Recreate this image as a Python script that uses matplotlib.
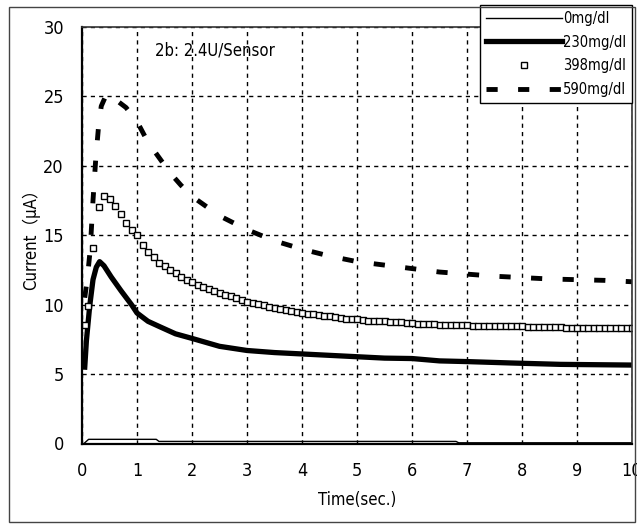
import matplotlib
matplotlib.use("Agg")
import matplotlib.pyplot as plt
from matplotlib.patches import Rectangle

plt.rcParams['font.family'] = ['DejaVu Sans', 'Noto Sans CJK JP']
plt.rcParams['font.stretch'] = 'condensed'

##################################
# Data

# 0 mg/dl (thin line near zero)
t_0 = [0.05, 0.12, 1.35, 1.4, 6.8, 6.85, 10.0]
i_0 = [0.05, 0.3, 0.3, 0.15, 0.15, 0.05, 0.05]

# 230 mg/dl (thick solid line)
t_230 = [0.05, 0.08, 0.14, 0.2, 0.26, 0.32, 0.4, 0.53, 0.71, 0.9, 1.0, 1.2, 1.42,
         1.7, 2.0, 2.5, 3.0, 3.5, 4.0, 4.5, 5.0, 5.5, 6.0, 6.5, 7.0, 7.8, 8.7, 10.0]
i_230 = [5.5, 7.4, 9.9, 11.8, 12.7, 13.1, 12.8, 12.0, 11.0, 10.0, 9.4, 8.8, 8.4,
         7.9, 7.57, 7.0, 6.7, 6.55, 6.45, 6.35, 6.25, 6.15, 6.12, 5.95, 5.9, 5.8, 5.7, 5.65]

# 398 mg/dl (open squares, every 0.1 s)
t_398 = [0.05] + [round(0.1 * k, 1) for k in range(1, 101)]
i_398 = [8.5, 9.9, 14.1, 17.0, 17.8, 17.6, 17.1, 16.5, 15.9, 15.4, 15.0,
         14.3, 13.8, 13.4, 13.0, 12.8, 12.5, 12.3, 12.0, 11.8, 11.6,
         11.4, 11.3, 11.1, 11.0, 10.85, 10.7, 10.6, 10.45, 10.35, 10.2,
         10.1, 10.05, 9.95, 9.85, 9.75, 9.7, 9.6, 9.55, 9.45, 9.4,
         9.35, 9.3, 9.25, 9.2, 9.15, 9.1, 9.05, 9.0, 8.95, 8.95,
         8.9, 8.85, 8.85, 8.8, 8.8, 8.78, 8.78, 8.75, 8.7, 8.65,
         8.62, 8.6, 8.6, 8.6, 8.57, 8.57, 8.55, 8.55, 8.52, 8.5,
         8.47, 8.47, 8.47, 8.47, 8.47, 8.47, 8.47, 8.47, 8.45, 8.45,
         8.42, 8.42, 8.42, 8.4, 8.4, 8.36, 8.36, 8.34, 8.34, 8.34,
         8.34, 8.34, 8.34, 8.34, 8.34, 8.33, 8.33, 8.33, 8.32, 8.32]

# 590 mg/dl (thick dashed line)
t_590 = [0.05, 0.1, 0.15, 0.2, 0.25, 0.3, 0.35, 0.45, 0.6, 0.8, 1.0, 1.2, 1.4, 1.6,
         1.8, 2.0, 2.5, 3.0, 3.5, 4.0, 4.5, 5.0, 5.5, 6.0, 6.5, 7.0, 7.5, 8.0, 8.5,
         9.0, 9.5, 10.0]
i_590 = [10.5, 12.0, 14.0, 17.5, 20.5, 22.8, 24.3, 25.2, 24.8, 24.2, 23.2, 21.7, 20.6,
         19.5, 18.6, 17.8, 16.4, 15.4, 14.6, 14.0, 13.5, 13.1, 12.85, 12.6, 12.35,
         12.2, 12.05, 11.95, 11.85, 11.8, 11.75, 11.65]

xticks = list(range(0, 11))
yticks = list(range(0, 31, 5))

##################################
# Figure

fig = plt.figure(figsize=(6.37, 5.29), dpi=100)
ax = fig.add_axes([82 / 637, 85.5 / 529, 550 / 637, 416.5 / 529])

ax.plot(t_0, i_0, color="black", lw=1.0, label="0mg/dl")
ax.plot(t_230, i_230, color="black", lw=3.8, label="230mg/dl")
ax.plot(t_398, i_398, ls="none", marker="s", ms=4, mfc="white", mec="black",
        mew=1.0, label="398mg/dl")
ax.plot(t_590, i_590, color="black", lw=3.5, ls=(0, (2.3, 4.2)), label="590mg/dl")

ax.set_xlim(0, 10)
ax.set_ylim(0, 30)
ax.set_xticks(xticks)
ax.set_yticks(yticks)
ax.tick_params(length=0, labelsize=13, pad=13)
ax.grid(True, color="black", ls=(0, (3, 3)), lw=1.0)

for s in ["left", "bottom"]:
    ax.spines[s].set_linewidth(1.6)
for s in ["top", "right"]:
    ax.spines[s].set_linewidth(1.2)
    ax.spines[s].set_color("#333333")

ax.set_xlabel("Time(sec.)", fontsize=12, labelpad=8)
ax.set_ylabel("Current\uff08\u03bcA\uff09", fontsize=12, labelpad=2,
              family=['DejaVu Sans', 'Noto Sans CJK JP'])
ax.text(1.33, 28.3, "2b: 2.4U/Sensor", fontsize=12, va="center", ha="left")

leg = ax.legend(loc="upper left", bbox_to_anchor=(480 / 637, 1 - 5 / 529),
                bbox_transform=fig.transFigure, fontsize=10.5, handlelength=5.2,
                handletextpad=0.1, labelspacing=0.6, borderpad=0.4,
                fancybox=False, framealpha=1, edgecolor="black", borderaxespad=0)
leg.get_frame().set_linewidth(1.0)

# outer chart frame
fig.patches.append(Rectangle((9 / 637, 7 / 529), 626 / 637, 515 / 529,
                             transform=fig.transFigure, fill=False,
                             edgecolor="#444444", lw=1.0))

fig.savefig("out.png", dpi=100)
